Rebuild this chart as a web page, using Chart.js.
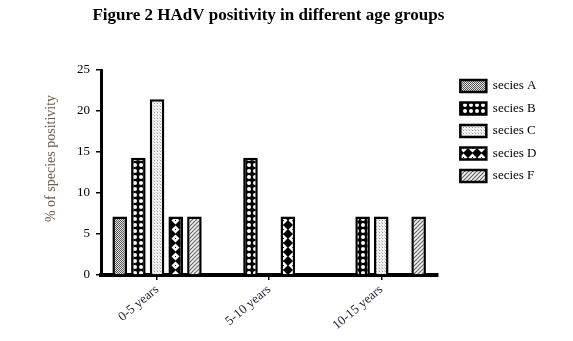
<!DOCTYPE html>
<html><head><meta charset="utf-8">
<script src="https://cdn.jsdelivr.net/npm/chart.js@4/dist/chart.umd.min.js"></script>
<style>html,body{margin:0;padding:0;background:#fff}canvas{display:block}</style>
</head><body>
<canvas id="c" width="573" height="341"></canvas>
<script>
const categories = ['0-5 years', '5-10 years', '10-15 years'];
const seriesNames = ['secies A', 'secies B', 'secies C', 'secies D', 'secies F'];
const speciesA = [7.14, null, null];
const speciesB = [14.29, 14.29, 7.14];
const speciesC = [21.43, null, 7.14];
const speciesD = [7.14, 7.14, null];
const speciesF = [7.14, null, 7.14];
const yTicks = [0, 5, 10, 15, 20, 25];

function pat(w, h, draw) {
  const c = document.createElement('canvas'); c.width = w; c.height = h;
  const x = c.getContext('2d'); draw(x, w, h);
  return document.getElementById('c').getContext('2d').createPattern(c, 'repeat');
}
const patA = pat(2, 2, (x) => { x.fillStyle = '#e4e4e4'; x.fillRect(0,0,2,2); x.fillStyle = '#555'; x.fillRect(0,0,1,1); x.fillRect(1,1,1,1); });
const patB = pat(6, 6, (x) => { x.fillStyle = '#000'; x.fillRect(0,0,6,6); x.fillStyle = '#fff'; x.beginPath(); x.arc(3,3,2,0,Math.PI*2); x.fill(); });
const patC = pat(3, 3, (x) => { x.fillStyle = '#f2f2f2'; x.fillRect(0,0,3,3); x.fillStyle = '#999'; x.fillRect(1,1,1,1); x.fillStyle = '#ccc'; x.fillRect(0,0,1,1); });
const patD = pat(9, 9, (x) => { x.fillStyle = '#000'; x.fillRect(0,0,9,9); x.fillStyle = '#fff'; x.beginPath(); x.moveTo(4.5,0.5); x.lineTo(8.5,4.5); x.lineTo(4.5,8.5); x.lineTo(0.5,4.5); x.closePath(); x.fill(); x.fillStyle='#000'; x.fillRect(4,4,1,1); });
const patF = pat(4, 4, (x) => { x.fillStyle = '#f4f4f4'; x.fillRect(0,0,4,4); x.strokeStyle = '#666'; x.lineWidth = 1.2; x.beginPath(); x.moveTo(0,4); x.lineTo(4,0); x.moveTo(-1,1); x.lineTo(1,-1); x.moveTo(3,5); x.lineTo(5,3); x.stroke(); });

const seriesData = [speciesA, speciesB, speciesC, speciesD, speciesF];
const fills = [patA, patB, patC, patD, patF];

const serif = 'Liberation Serif';
new Chart(document.getElementById('c'), {
  type: 'bar',
  data: {
    labels: categories,
    datasets: seriesData.map((d, i) => ({
      label: seriesNames[i], data: d, backgroundColor: fills[i],
      borderColor: '#000', borderWidth: 2.5,
      categoryPercentage: 0.833, barPercentage: 0.78
    }))
  },
  options: {
    responsive: false, animation: false, devicePixelRatio: 1,
    layout: { padding: { left: 0, right: 32, top: 0, bottom: 0 } },
    plugins: {
      title: { display: true, text: 'Figure 2 HAdV positivity in different age groups ', fullSize: true,
        color: '#000', font: { family: serif, size: 17, weight: 'bold' }, padding: { top: 5, bottom: 44.6 } },
      legend: { display: true, position: 'right', align: 'start', fullSize: false,
        labels: { boxWidth: 26, boxHeight: 12, padding: 9.5, color: '#000', font: { family: serif, size: 13 } } },
      tooltip: { enabled: false }
    },
    scales: {
      x: {
        grid: { display: true, drawOnChartArea: false, drawTicks: true, tickLength: 5, color: '#000', lineWidth: 1.5, offset: false },
        border: { display: true, color: '#000', width: 4 },
        ticks: { color: '#1a1a33', font: { family: serif, size: 13 }, minRotation: 40, maxRotation: 40, padding: 2 },
        afterFit: (s) => { s.height = 66; }
      },
      y: {
        min: 0, max: 25,
        afterBuildTicks: (s) => { s.ticks = yTicks.map(v => ({ value: v })); },
        grid: { display: true, drawOnChartArea: false, drawTicks: true, tickLength: 5, color: '#000', lineWidth: 1.5 },
        border: { display: true, color: '#000', width: 3 },
        ticks: { color: '#000', font: { family: serif, size: 13 }, padding: 6 },
        title: { display: true, text: '        % of species positivity', align: 'center', color: '#6a5a4a',
          font: { family: serif, size: 14 }, padding: { top: 43, bottom: 0 } },
        afterFit: (s) => { s.width = 101; }
      },
      yR: {
        position: 'right', display: true,
        grid: { display: false }, border: { display: false }, ticks: { display: false },
        afterFit: (s) => { s.width = 13.5; }
      }
    }
  }
});
</script>
</body></html>
